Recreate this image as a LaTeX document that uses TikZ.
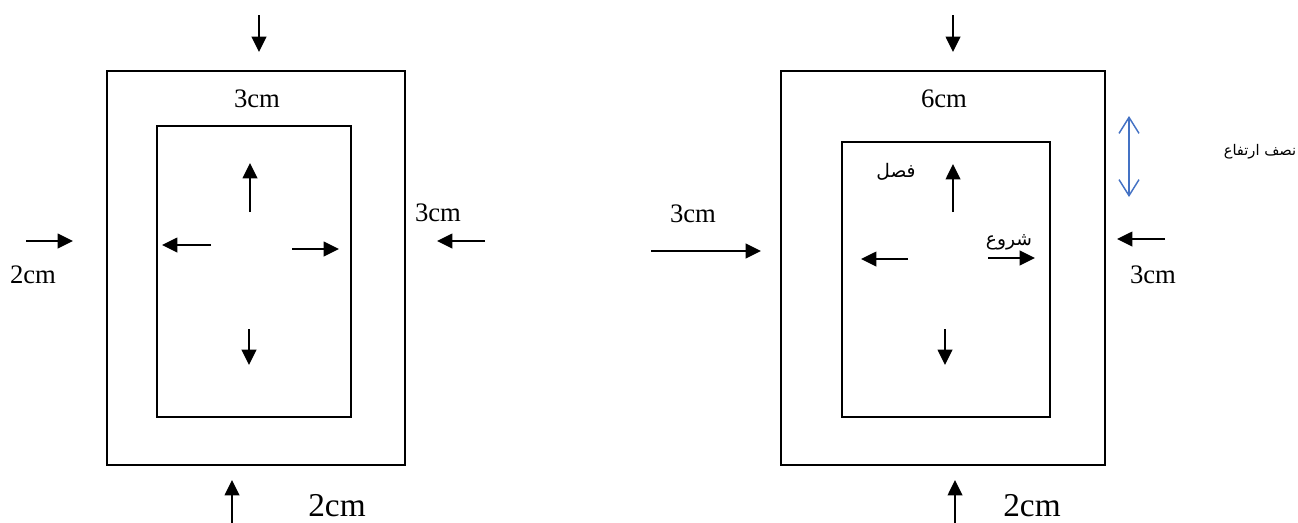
\documentclass[tikz,border=0pt]{standalone}
\usepackage{fontspec}
\setmainfont{Liberation Serif}
\newfontfamily\arabicfont[Script=Arabic]{DejaVu Sans}
\TeXXeTstate=1
\usetikzlibrary{arrows.meta}
\begin{document}
\begin{tikzpicture}[x=0.75pt,y=-0.75pt,
  box/.style={draw,line width=1.1pt},
  arr/.style={line width=1.2pt,-{Triangle[length=11.5pt,width=11pt]}},
  lbl/.style={inner sep=0pt,font=\fontsize{20}{22}\selectfont},
  biglbl/.style={inner sep=0pt,font=\fontsize{25}{27}\selectfont},
  arlbl/.style={inner sep=0pt,font=\arabicfont\fontsize{11}{13}\selectfont},
  dbl/.style={line width=1.1pt,draw={rgb,255:red,68;green,114;blue,196},{Straight Barb[length=12pt,width=15pt]}-{Straight Barb[length=12pt,width=15pt]}}]
\useasboundingbox (0,0) rectangle (1298,522);
% ---------- left diagram ----------
\draw[box] (107,71) rectangle (405,465);
\draw[box] (157,126) rectangle (351,417);
\coordinate (lt1) at (259,15); \coordinate (lt2) at (259,52);
\draw[arr] (lt1) -- (lt2);
\coordinate (lb1) at (232,525); \coordinate (lb2) at (232,480);
\draw[arr] (lb1) -- (lb2);
\coordinate (ll1) at (26,241); \coordinate (ll2) at (73,241);
\draw[arr] (ll1) -- (ll2);
\coordinate (lr1) at (485,241); \coordinate (lr2) at (437,241);
\draw[arr] (lr1) -- (lr2);
\coordinate (liu1) at (250,212); \coordinate (liu2) at (250,163);
\draw[arr] (liu1) -- (liu2);
\coordinate (lil1) at (211,245); \coordinate (lil2) at (162,245);
\draw[arr] (lil1) -- (lil2);
\coordinate (lir1) at (292,249); \coordinate (lir2) at (339,249);
\draw[arr] (lir1) -- (lir2);
\coordinate (lid1) at (249,329); \coordinate (lid2) at (249,365);
\draw[arr] (lid1) -- (lid2);
\node[lbl] (l3top) at (257,99) {3cm};
\node[lbl] (l2left) at (33,275) {2cm};
\node[lbl] (l3right) at (438,213) {3cm};
\node[biglbl] (l2bot) at (337,506) {2cm};
% ---------- right diagram ----------
\draw[box] (781,71) rectangle (1105,465);
\draw[box] (842,142) rectangle (1050,417);
\coordinate (rt1) at (953,15); \coordinate (rt2) at (953,52);
\draw[arr] (rt1) -- (rt2);
\coordinate (rb1) at (955,525); \coordinate (rb2) at (955,480);
\draw[arr] (rb1) -- (rb2);
\coordinate (rl1) at (651,251); \coordinate (rl2) at (761,251);
\draw[arr] (rl1) -- (rl2);
\coordinate (rr1) at (1165,239); \coordinate (rr2) at (1117,239);
\draw[arr] (rr1) -- (rr2);
\coordinate (riu1) at (953,212); \coordinate (riu2) at (953,164);
\draw[arr] (riu1) -- (riu2);
\coordinate (ril1) at (908,259); \coordinate (ril2) at (861,259);
\draw[arr] (ril1) -- (ril2);
\coordinate (rir1) at (988,258); \coordinate (rir2) at (1035,258);
\draw[arr] (rir1) -- (rir2);
\coordinate (rid1) at (945,329); \coordinate (rid2) at (945,365);
\draw[arr] (rid1) -- (rid2);
\coordinate (bl1) at (1129,116); \coordinate (bl2) at (1129,197);
\draw[dbl] (bl1) -- (bl2);
\node[lbl] (r6top) at (944,99) {6cm};
\node[lbl] (r3left) at (693,214) {3cm};
\node[lbl] (r3right) at (1153,275) {3cm};
\node[biglbl] (r2bot) at (1032,506) {2cm};
\node[arlbl] (half) at (1260,152) {\beginR نصف ارتفاع\endR};
\node[arlbl,font=\arabicfont\fontsize{14}{16}\selectfont] (fasl) at (896,172) {\beginR فصل\endR};
\node[arlbl,font=\arabicfont\fontsize{14}{16}\selectfont] (shoroo) at (1009,242) {\beginR شروع\endR};
\end{tikzpicture}
\end{document}
